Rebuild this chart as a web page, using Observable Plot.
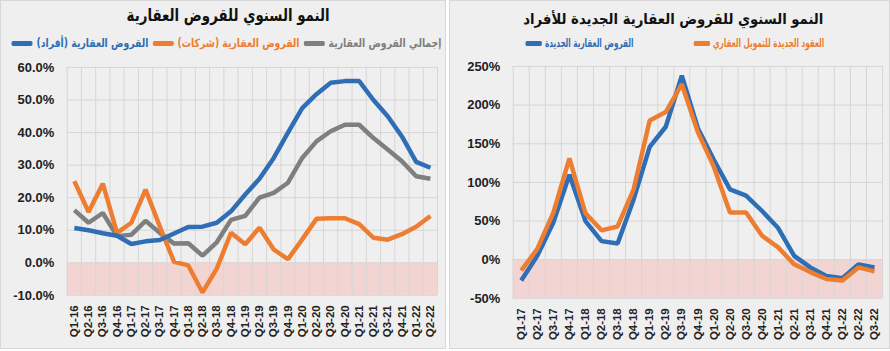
<!DOCTYPE html>
<html><head><meta charset="utf-8">
<script src="https://cdn.jsdelivr.net/npm/d3@7"></script>
<script src="https://cdn.jsdelivr.net/npm/@observablehq/plot@0.6"></script>
<style>
body{margin:0;background:#fff;width:890px;height:351px;overflow:hidden;font-family:"DejaVu Sans",sans-serif;}
.panel{position:absolute;top:0;height:349px;background:#efefef;border:1px solid #d8d8d8;box-sizing:border-box;}
.title{position:absolute;white-space:nowrap;font-weight:bold;color:#111;direction:rtl;transform-origin:center center;}
.legend{position:absolute;display:inline-flex;direction:rtl;font-weight:bold;font-size:11.5px;white-space:nowrap;transform-origin:right center;}
.item{display:flex;align-items:center;}
.bar{display:inline-block;width:26px;height:5px;border-radius:2px;margin:0 5px;}
svg{position:absolute;left:0;top:50px;}
svg text{font-family:"Liberation Sans",Arial,sans-serif;}
</style></head>
<body>
<div id="p1" class="panel" style="left:0;width:446px;">
  <span class="title" id="t1" style="top:4px;font-size:17px;">النمو السنوي للقروض العقارية</span>
  <div class="legend" id="leg1" style="top:35px;right:4px;"></div>
</div>
<div id="p2" class="panel" style="left:449px;width:441px;">
  <span class="title" id="t2" style="top:9px;font-size:15px;">النمو السنوي للقروض العقارية الجديدة للأفراد</span>
  <div class="legend" id="leg2" style="top:35px;right:65px;gap:90px;"></div>
</div>
<script>
// ---- Left chart data ----
const quartersA = ["Q1-16","Q2-16","Q3-16","Q4-16","Q1-17","Q2-17","Q3-17","Q4-17","Q1-18","Q2-18","Q3-18","Q4-18","Q1-19","Q2-19","Q3-19","Q4-19","Q1-20","Q2-20","Q3-20","Q4-20","Q1-21","Q2-21","Q3-21","Q4-21","Q1-22","Q2-22"];
const individualsA = [10.7,10.0,9.1,8.3,5.8,6.6,7.0,9.0,11.0,11.1,12.3,15.8,21.0,25.8,32.2,40.0,47.5,51.8,55.3,55.8,55.8,50.0,45.0,38.8,31.0,29.2];
const companiesA = [25.1,15.6,24.3,9.2,12.3,22.5,11.2,0.3,-0.8,-9.1,-1.8,9.2,5.7,10.8,4.1,1.1,7.2,13.5,13.7,13.7,11.9,7.7,7.1,8.8,11.1,14.4];
const totalA = [16.2,12.3,15.3,8.2,8.6,12.9,9.2,5.9,6.0,2.2,6.3,13.2,14.4,20.0,21.5,24.6,32.2,37.3,40.4,42.4,42.4,38.3,34.8,31.2,26.6,25.8];
const yTicksA = [-10,0,10,20,30,40,50,60];
const labelsA = {individuals:"القروض العقارية (أفراد)", companies:"القروض العقارية (شركات)", total:"إجمالي القروض العقارية"};

// ---- Right chart data ----
const quartersB = ["Q1-17","Q2-17","Q3-17","Q4-17","Q1-18","Q2-18","Q3-18","Q4-18","Q1-19","Q2-19","Q3-19","Q4-19","Q1-20","Q2-20","Q3-20","Q4-20","Q1-21","Q2-21","Q3-21","Q4-21","Q1-22","Q2-22","Q3-22"];
const newLoansB = [-27,5,48,110,50,24,21,78,146,172,238,170,129,91,83,63,41,5,-10,-21,-24,-6,-10];
const newContractsB = [-14,14,61,131,60,38,43,91,180,191,227,165,120,61,61,31,16,-6,-16,-25,-27,-10,-15];
const yTicksB = [-50,0,50,100,150,200,250];
const labelsB = {loans:"القروض العقارية الجديدة", contracts:"العقود الجديدة للتمويل العقاري"};

const BLUE="#2f6db5", ORANGE="#ed7d31", GRAY="#7f7f7f";
const GRID="#d6d6d6", PINK="#f2d5d3";

function legend(el, items, targetW){
  for(const [label,color] of items){
    const it=document.createElement("span"); it.className="item";
    const t=document.createElement("span"); t.textContent=label; t.style.color=color;
    const b=document.createElement("span"); b.className="bar"; b.style.background=color;
    it.appendChild(t); it.appendChild(b); el.appendChild(it);
  }
  const w=el.getBoundingClientRect().width;
  el.style.transform=`scaleX(${targetW/w})`;
}
legend(document.getElementById("leg1"), [[labelsA.total,GRAY],[labelsA.companies,ORANGE],[labelsA.individuals,BLUE]], 434);
legend(document.getElementById("leg2"), [[labelsB.contracts,ORANGE],[labelsB.loans,BLUE]], 302);

function fitTitle(el, panelW, center, targetW){
  const w=el.getBoundingClientRect().width;
  el.style.left=(center-w/2)+"px";
  el.style.transform=`scaleX(${targetW/w})`;
}
fitTitle(document.getElementById("t1"), 446, 227, 203);
fitTitle(document.getElementById("t2"), 441, 223, 300);

function chart({quarters, series, yTicks, fmt, width, height, margins, fontY}){
  const n=quarters.length;
  const yMin=yTicks[0], yMax=yTicks[yTicks.length-1];
  const marks=[
    Plot.rect([0],{x1:-0.5,x2:n-0.5,y1:yMin,y2:0,fill:PINK}),
    Plot.ruleY(yTicks,{stroke:GRID,strokeWidth:1}),
    Plot.ruleX(d3.range(n+1),{x:i=>i-0.5,stroke:GRID,strokeWidth:1}),
  ];
  for(const s of series){
    marks.push(Plot.line(s.values.map((v,i)=>({i,v})),{x:"i",y:"v",stroke:s.color,strokeWidth:4.5,strokeLinejoin:"miter",strokeLinecap:"butt"}));
  }
  marks.push(Plot.axisY(yTicks,{tickSize:0,tickPadding:13,tickFormat:fmt,fontSize:fontY,fontWeight:"bold",fill:"#222",label:null}));
  marks.push(Plot.axisX(d3.range(n),{tickSize:0,tickPadding:10,tickRotate:-90,tickFormat:i=>quarters[i],fontSize:11.5,fontWeight:"bold",fill:"#222",label:null}));
  return Plot.plot({
    width,height,...margins,
    style:{background:"transparent",overflow:"visible"},
    x:{type:"linear",domain:[-0.5,n-0.5],label:null},
    y:{domain:[yMin,yMax],label:null},
    marks
  });
}

document.getElementById("p1").appendChild(chart({
  quarters:quartersA,
  series:[{values:totalA,color:GRAY},{values:companiesA,color:ORANGE},{values:individualsA,color:BLUE}],
  yTicks:yTicksA, fmt:d=>d.toFixed(1)+"%", width:446, height:301,
  margins:{marginTop:16,marginBottom:56,marginLeft:66,marginRight:8}, fontY:13
}));
document.getElementById("p2").appendChild(chart({
  quarters:quartersB,
  series:[{values:newLoansB,color:BLUE},{values:newContractsB,color:ORANGE}],
  yTicks:yTicksB, fmt:d=>d+"%", width:441, height:301,
  margins:{marginTop:15,marginBottom:53,marginLeft:63,marginRight:7}, fontY:13
}));
</script>
</body></html>
